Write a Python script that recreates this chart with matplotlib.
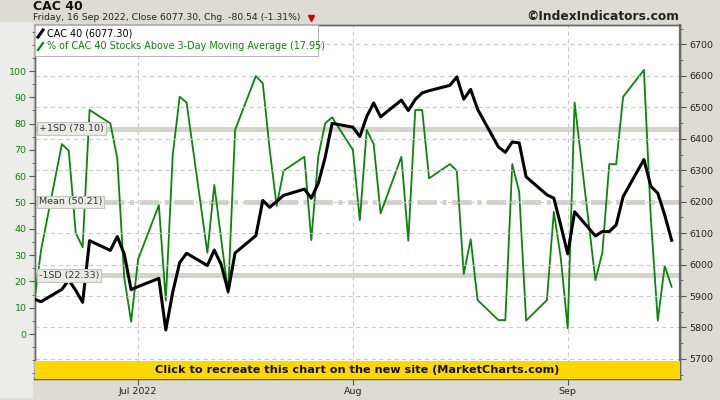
import matplotlib
matplotlib.use("Agg")
import matplotlib.pyplot as plt
import matplotlib.transforms as mtrans
from matplotlib.patches import Rectangle
from matplotlib.lines import Line2D
import numpy as np
import pandas as pd

plt.rcParams['font.family'] = ['DejaVu Sans']
plt.rcParams['lines.scale_dashes'] = False

# ---------------- data ----------------
dates = [
    "2022-06-16", "2022-06-17", "2022-06-20", "2022-06-21", "2022-06-22", "2022-06-23", "2022-06-24",
    "2022-06-27", "2022-06-28", "2022-06-29", "2022-06-30", "2022-07-01",
    "2022-07-04", "2022-07-05", "2022-07-06", "2022-07-07", "2022-07-08",
    "2022-07-11", "2022-07-12", "2022-07-13", "2022-07-14", "2022-07-15",
    "2022-07-18", "2022-07-19", "2022-07-20", "2022-07-21", "2022-07-22",
    "2022-07-25", "2022-07-26", "2022-07-27", "2022-07-28", "2022-07-29",
    "2022-08-01", "2022-08-02", "2022-08-03", "2022-08-04", "2022-08-05",
    "2022-08-08", "2022-08-09", "2022-08-10", "2022-08-11", "2022-08-12",
    "2022-08-15", "2022-08-16", "2022-08-17", "2022-08-18", "2022-08-19",
    "2022-08-22", "2022-08-23", "2022-08-24", "2022-08-25", "2022-08-26",
    "2022-08-29", "2022-08-30", "2022-08-31", "2022-09-01", "2022-09-02",
    "2022-09-05", "2022-09-06", "2022-09-07", "2022-09-08", "2022-09-09",
    "2022-09-12", "2022-09-13", "2022-09-14", "2022-09-15", "2022-09-16",
]
cac = [
    5890, 5882, 5921, 5951, 5918, 5880, 6076,
    6045, 6089, 6034, 5920, 5930,
    5956, 5792, 5912, 6006, 6036,
    5997, 6046, 6000, 5915, 6037,
    6092, 6204, 6182, 6201, 6220,
    6240, 6211, 6258, 6341, 6449,
    6437, 6407, 6471, 6514, 6470,
    6523, 6490, 6525, 6546, 6553,
    6570, 6597, 6526, 6557, 6494,
    6374, 6357, 6390, 6387, 6279,
    6222, 6211, 6125, 6034, 6168,
    6091, 6105, 6105, 6126, 6216,
    6334, 6249, 6227, 6157.84, 6077.30,
]
pct = [
    11.7, 31.9, 72.2, 69.7, 38.5, 33.0, 85.2,
    80.1, 66.8, 21.5, 4.7, 28.4,
    49.0, 12.7, 68.0, 90.2, 88.0,
    30.9, 56.7, 36.0, 15.5, 77.6,
    98.1, 95.3, 70.0, 48.7, 62.1,
    67.4, 35.7, 67.4, 80.1, 82.4,
    70.0, 43.3, 77.6, 72.2, 45.9,
    67.4, 35.5, 85.2, 85.2, 59.2,
    64.6, 62.1, 22.8, 36.0, 12.9,
    5.3, 5.3, 64.6, 54.1, 5.1,
    12.9, 46.5, 29.0, 2.2, 88.0,
    20.5, 30.9, 64.6, 64.6, 90.2,
    100.4, 44.0, 5.1, 25.9, 17.95,
]
sd_levels = [78.10, 50.21, 22.33]
sd_labels = ["+1SD (78.10)", "Mean (50.21)", "-1SD (22.33)"]
pct_ticks = [0, 10, 20, 30, 40, 50, 60, 70, 80, 90, 100]
cac_ticks = [5700, 5800, 5900, 6000, 6100, 6200, 6300, 6400, 6500, 6600, 6700]
month_ticks = ["2022-07-01", "2022-08-01", "2022-09-01"]
month_labels = ["Jul 2022", "Aug", "Sep"]

x = pd.to_datetime(dates)

W, H = 720, 400
def fx(px): return px / W
def fy(py): return 1 - py / H

fig = plt.figure(figsize=(7.2, 4.0), dpi=100)
fig.patch.set_facecolor('#dcdcd4')
# lighter panel behind left axis
fig.patches.append(Rectangle((0, fy(398)), fx(33), fy(22) - fy(398), transform=fig.transFigure,
                             facecolor='#ececea', edgecolor='none', zorder=-5))

ax1 = fig.add_axes([fx(35), fy(379), fx(680) - fx(35), fy(25) - fy(379)])
ax2 = ax1.twinx()
ax1.set_facecolor('white')

green = '#0a850a'
ax1.set_xlim(pd.Timestamp("2022-06-16 03:00"), pd.Timestamp("2022-09-17 05:00"))
ax1.set_ylim(-17.1, 117.5)
ax2.set_ylim(5636, 6762)

# grid
for v in cac_ticks:
    ax2.axhline(v, color='#c8c8c8', lw=0.8, dashes=(3, 2.5), zorder=1)
for m in month_ticks:
    ax1.axvline(pd.Timestamp(m), color='#c8c8c8', lw=0.8, dashes=(3, 2.5), zorder=1)

# SD bands
for lvl in sd_levels:
    if abs(lvl - 50.21) < 0.01:
        ax1.axhline(lvl, color='#d4d4ca', lw=3.6, dashes=(14, 4, 3, 4), zorder=2)
    else:
        ax1.axhline(lvl, color='#d4d4ca', lw=3.6, zorder=2)

# data lines
ax1.plot(x, pct, color=green, lw=1.3, zorder=5)
ax2.plot(x, cac, color='black', lw=2.2, zorder=5)

# SD labels
tr = mtrans.blended_transform_factory(ax2.transAxes, ax1.transData)
for lvl, lab in zip(sd_levels, sd_labels):
    ax2.text(0.006, lvl, lab, transform=tr, fontsize=6.8, color='#333333', va='center', ha='left',
             zorder=10, bbox=dict(boxstyle='square,pad=0.2', facecolor='#ebebe6', edgecolor='#c4c4bc', lw=0.8))

# yellow band
ax2.add_patch(Rectangle((0, 0), 1, (379 - 361) / 354, transform=ax2.transAxes, facecolor='#ffd700',
                        edgecolor='none', zorder=8))
ax2.text(0.5, (379 - 370) / 354, "Click to recreate this chart on the new site (MarketCharts.com)",
         transform=ax2.transAxes, ha='center', va='center', fontsize=8.1, fontweight='bold', color='#111111', zorder=9)

# ticks
ax1.set_yticks(pct_ticks)
ax1.set_yticks(np.arange(-15, 116, 5), minor=True)
ax1.tick_params(axis='y', which='major', labelsize=6.8, labelcolor=green, color='#555555', length=4, direction='out', pad=2)
ax1.tick_params(axis='y', which='minor', color='#555555', length=2)
ax2.set_yticks(cac_ticks)
ax2.set_yticks(np.arange(5650, 6751, 50), minor=True)
ax2.tick_params(axis='y', which='major', labelsize=6.8, labelcolor='#222222', color='#555555', length=4, direction='out', pad=3)
ax2.tick_params(axis='y', which='minor', color='#555555', length=2)
ax1.set_xticks(pd.to_datetime(month_ticks))
ax1.set_xticklabels(month_labels)
ax1.tick_params(axis='x', labelsize=6.8, labelcolor='#222222', color='#555555', length=4, pad=2)

for ax in (ax1, ax2):
    for s in ax.spines.values():
        s.set_color('#666666')
        s.set_linewidth(1.0)
ax2.spines['right'].set_linewidth(1.6)
ax2.spines['bottom'].set_linewidth(1.6)

# legend box (manual)
leg = Rectangle((fx(35), fy(56)), fx(318) - fx(35), fy(25) - fy(56), transform=fig.transFigure,
                facecolor='white', edgecolor='#b8b8b8', lw=0.8, zorder=20)
fig.patches.append(leg)
fig.lines.append(Line2D([fx(38), fx(43)], [fy(37), fy(30)], transform=fig.transFigure, color='black', lw=2.2, zorder=21))
fig.lines.append(Line2D([fx(38), fx(43)], [fy(50), fy(43)], transform=fig.transFigure, color=green, lw=1.6, zorder=21))
fig.text(fx(47), fy(33.5), "CAC 40 (6077.30)", fontsize=6.9, color='black', va='center', ha='left', zorder=22)
fig.text(fx(47), fy(46), "% of CAC 40 Stocks Above 3-Day Moving Average (17.95)", fontsize=6.9, color=green,
         va='center', ha='left', zorder=22)

# titles
fig.text(fx(33), fy(7), "CAC 40", fontsize=9, fontweight='bold', color='#111111', va='center', ha='left')
fig.text(fx(33), fy(17.5), "Friday, 16 Sep 2022, Close 6077.30, Chg. -80.54 (-1.31%)", fontsize=6.65,
         color='#222222', va='center', ha='left')
fig.lines.append(Line2D([fx(311)], [fy(18)], transform=fig.transFigure, marker='v', color='#cc0000',
                        markersize=5, linestyle='none'))
fig.text(fx(679), fy(17), "\u00a9IndexIndicators.com", fontsize=8.8, fontweight='bold', color='#222222',
         va='center', ha='right')

fig.savefig("out.png", dpi=100, facecolor=fig.get_facecolor())
